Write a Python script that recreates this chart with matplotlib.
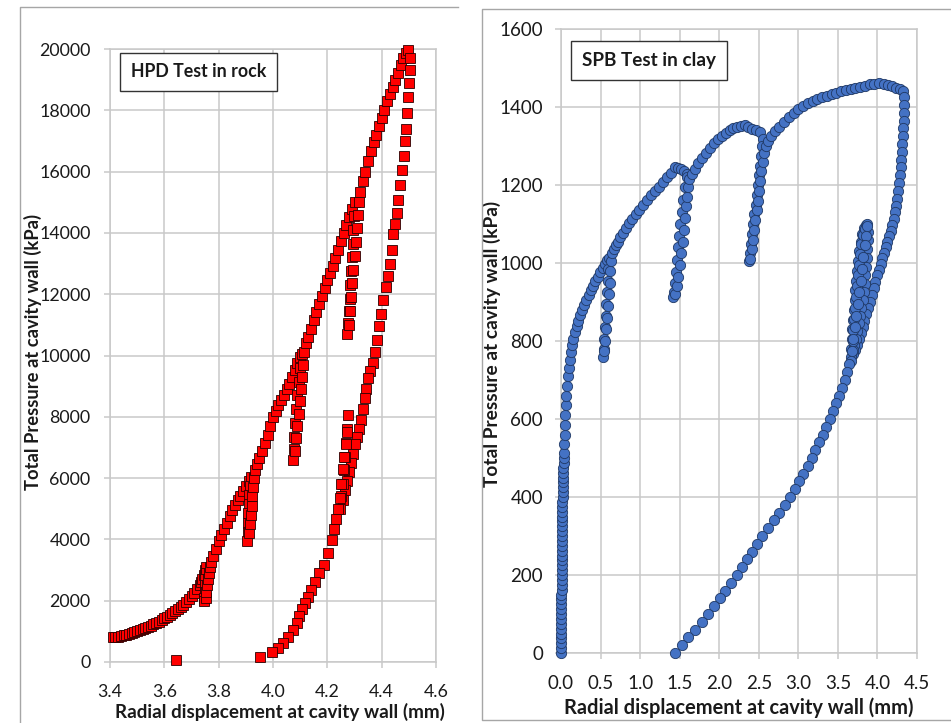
import numpy as np
import matplotlib
matplotlib.use("Agg")
import matplotlib.pyplot as plt
from matplotlib.lines import Line2D

# HPD test in rock: radial displacement (mm) and total pressure (kPa)
hpd_x = [
    3.410, 3.420, 3.430, 3.440, 3.450, 3.460, 3.470, 3.480, 3.490, 3.500,
    3.510, 3.520, 3.530, 3.540, 3.550, 3.560, 3.570, 3.580, 3.590, 3.600,
    3.610, 3.620, 3.630, 3.640, 3.650, 3.660, 3.670, 3.680, 3.690, 3.700,
    3.710, 3.720, 3.730, 3.735, 3.740, 3.745, 3.750, 3.753,
    3.752, 3.750, 3.749, 3.748, 3.747, 3.747,
    3.752, 3.755, 3.758, 3.761, 3.764, 3.767, 3.772,
    3.780, 3.790, 3.800, 3.810, 3.820, 3.830, 3.840, 3.850, 3.860, 3.870,
    3.880, 3.890, 3.900, 3.910, 3.918,
    3.916, 3.913, 3.911, 3.909, 3.908, 3.907, 3.906,
    3.912, 3.915, 3.918, 3.921, 3.924, 3.927, 3.930, 3.935,
    3.940, 3.950, 3.960, 3.970, 3.980, 3.990, 4.000, 4.010, 4.020, 4.030,
    4.040, 4.050, 4.060, 4.070, 4.080, 4.090, 4.100, 4.105,
    4.100, 4.095, 4.090, 4.086, 4.082, 4.079, 4.077, 4.075,
    4.082, 4.086, 4.090, 4.094, 4.098, 4.102, 4.106, 4.110, 4.114, 4.120,
    4.130, 4.140, 4.150, 4.160, 4.170, 4.180, 4.190, 4.200, 4.210, 4.220,
    4.230, 4.240, 4.250, 4.260, 4.270, 4.280, 4.290, 4.300,
    4.298, 4.296, 4.293, 4.291, 4.288, 4.285, 4.282, 4.279, 4.276, 4.273,
    4.280, 4.284, 4.288, 4.292, 4.296, 4.300, 4.304, 4.308, 4.312, 4.316, 4.322,
    4.330, 4.340, 4.350, 4.360, 4.370, 4.380, 4.390, 4.400, 4.410, 4.420,
    4.430, 4.440, 4.450, 4.460, 4.470, 4.480, 4.490, 4.498,
    4.504, 4.503, 4.501, 4.498, 4.494, 4.490, 4.486, 4.481, 4.475, 4.468,
    4.461, 4.455, 4.449, 4.443, 4.437, 4.431, 4.424, 4.415, 4.406, 4.398,
    4.390, 4.381, 4.374, 4.367, 4.358, 4.350, 4.343, 4.337, 4.330, 4.323,
    4.316, 4.308, 4.301, 4.294, 4.287, 4.280, 4.272, 4.264, 4.256, 4.248,
    4.252, 4.256, 4.260, 4.264, 4.268, 4.272, 4.277,
    4.272, 4.267, 4.262, 4.257, 4.252, 4.246, 4.240, 4.232, 4.224, 4.216,
    4.204, 4.186, 4.169, 4.155, 4.140, 4.128, 4.117, 4.106, 4.096, 4.087,
    4.072, 4.056, 4.038, 4.020, 3.995, 3.952,
    3.643,
]
hpd_p = [
    800, 815, 830, 850, 870, 895, 920, 950, 980, 1010,
    1040, 1075, 1110, 1150, 1190, 1230, 1275, 1320, 1370, 1420,
    1475, 1530, 1590, 1650, 1720, 1790, 1870, 1950, 2040, 2140,
    2250, 2370, 2500, 2600, 2720, 2850, 3000, 3100,
    2900, 2700, 2500, 2300, 2100, 1980,
    2100, 2300, 2500, 2700, 2900, 3100, 3250,
    3450, 3700, 3950, 4150, 4350, 4550, 4750, 4950, 5120, 5280,
    5430, 5580, 5750, 5900, 6050,
    5750, 5450, 5150, 4850, 4550, 4250, 3950,
    4200, 4500, 4800, 5100, 5400, 5700, 6000, 6250,
    6450, 6650, 6900, 7150, 7400, 7700, 7980, 8200, 8380, 8550,
    8720, 8900, 9080, 9300, 9520, 9750, 9950, 10050,
    9600, 9150, 8700, 8250, 7800, 7350, 6950, 6600,
    6900, 7300, 7700, 8100, 8500, 8900, 9300, 9700, 10100, 10400,
    10600, 10880, 11150, 11420, 11680, 11950, 12200, 12450, 12700, 12930,
    13180, 13450, 13720, 14000, 14270, 14520, 14770, 15000,
    14550, 14100, 13650, 13200, 12750, 12300, 11850, 11450, 11050, 10700,
    11000, 11450, 11900, 12350, 12800, 13250, 13700, 14150, 14600, 15000, 15350,
    15700, 16000, 16350, 16680, 16950, 17200, 17480, 17750, 18020, 18300,
    18520, 18760, 18980, 19230, 19480, 19700, 19880, 19970,
    19700, 19300, 18900, 18450, 17900, 17400, 17000, 16500, 16050, 15550,
    15070, 14650, 14300, 13950, 13450, 13000, 12600, 12250, 11800, 11350,
    10950, 10500, 10100, 9750, 9500, 9250, 8900, 8600, 8250, 7900,
    7600, 7350, 7100, 6800, 6500, 6200, 5900, 5600, 5300, 5000,
    5400, 5800, 6250, 6700, 7150, 7600, 8050,
    7500, 7100, 6700, 6300, 5800, 5350, 5000, 4650, 4350, 3980,
    3560, 3170, 2920, 2620, 2360, 2130, 1930, 1720, 1500, 1270,
    1040, 830, 610, 450, 310, 150,
    65,
]

# SPB test in clay: radial displacement (mm) and total pressure (kPa)
spb_x = [
    0.000, 0.000, 0.002, 0.002, 0.003, 0.003, 0.004, 0.004, 0.005, 0.005,
    0.006, 0.006, 0.006, 0.007, 0.007, 0.008, 0.008, 0.009, 0.009, 0.010,
    0.010, 0.011, 0.011, 0.012, 0.012, 0.013, 0.014, 0.014, 0.015, 0.016,
    0.017, 0.018, 0.019, 0.021, 0.022, 0.024, 0.026, 0.028, 0.030, 0.033,
    0.036, 0.040, 0.043, 0.046, 0.049, 0.053, 0.058, 0.065, 0.073, 0.083,
    0.095, 0.108, 0.122, 0.138, 0.155, 0.175, 0.196, 0.218, 0.242, 0.267,
    0.293, 0.320, 0.348, 0.377, 0.406, 0.436, 0.466, 0.497, 0.527, 0.556,
    0.585, 0.605,
    0.600, 0.592, 0.583, 0.574, 0.565, 0.556, 0.548, 0.541, 0.536,
    0.548, 0.560, 0.572, 0.584, 0.595, 0.605, 0.614, 0.622, 0.632, 0.645,
    0.665, 0.690, 0.720, 0.750, 0.785, 0.820, 0.860, 0.900, 0.945, 0.990,
    1.040, 1.090, 1.140, 1.190, 1.240, 1.290, 1.340, 1.390, 1.440,
    1.480, 1.520, 1.560, 1.595,
    1.590, 1.570, 1.545, 1.525, 1.505, 1.490, 1.478, 1.465, 1.450, 1.438,
    1.428, 1.420,
    1.440, 1.465, 1.485, 1.505, 1.522, 1.537, 1.552, 1.566, 1.580, 1.593,
    1.606, 1.622,
    1.650, 1.690, 1.730, 1.780, 1.830, 1.880, 1.930, 1.980, 2.030, 2.080,
    2.130, 2.180, 2.230, 2.280, 2.320,
    2.370, 2.420, 2.470, 2.520, 2.555,
    2.545, 2.530, 2.515, 2.500, 2.487, 2.474, 2.460, 2.445, 2.430, 2.415,
    2.400, 2.388, 2.378,
    2.395, 2.412, 2.428, 2.443, 2.458, 2.473, 2.488, 2.503, 2.518, 2.533,
    2.548, 2.565, 2.590, 2.620,
    2.660, 2.710, 2.760, 2.820, 2.880, 2.940, 3.000, 3.060, 3.120, 3.180,
    3.240, 3.300, 3.360, 3.420, 3.480, 3.540, 3.600, 3.660, 3.720, 3.780,
    3.840, 3.900, 3.960, 4.020, 4.080, 4.130, 4.180, 4.230, 4.280, 4.320,
    4.335, 4.335, 4.333, 4.330, 4.326, 4.321, 4.316, 4.310, 4.303, 4.295,
    4.286, 4.276, 4.265, 4.252, 4.238, 4.222, 4.205, 4.187, 4.168, 4.148,
    4.127, 4.105, 4.083, 4.061, 4.040, 4.018, 3.996, 3.974, 3.951, 3.928,
    3.905, 3.882, 3.859, 3.836, 3.812, 3.788, 3.763, 3.738, 3.713, 3.688,
    3.665,
    3.668, 3.676, 3.684, 3.692, 3.701, 3.710, 3.720, 3.731, 3.743, 3.756,
    3.770, 3.786, 3.804, 3.826, 3.850, 3.872,
    3.880, 3.877, 3.872, 3.866, 3.858, 3.849, 3.838, 3.826, 3.812, 3.797,
    3.780, 3.762, 3.744, 3.726, 3.708, 3.690,
    3.685, 3.694, 3.704, 3.714, 3.725, 3.737, 3.750, 3.764, 3.779, 3.795,
    3.815, 3.840, 3.865,
    3.855, 3.840, 3.822, 3.804, 3.786, 3.768, 3.750, 3.732, 3.714, 3.697,
    3.680, 3.662,
    3.643, 3.617, 3.590, 3.552, 3.514, 3.476, 3.438, 3.400, 3.354, 3.308,
    3.262, 3.216, 3.170, 3.116, 3.062, 3.008, 2.954, 2.900, 2.829, 2.758,
    2.687, 2.616, 2.545, 2.480, 2.415, 2.350, 2.285, 2.220, 2.148, 2.076,
    2.004, 1.932, 1.860, 1.776, 1.692, 1.608, 1.524, 1.440,
]
spb_p = [
    0, 12, 25, 38, 50, 62, 75, 88, 100, 112,
    125, 138, 150, 162, 175, 188, 200, 212, 225, 238,
    250, 262, 275, 288, 300, 312, 325, 338, 350, 362,
    375, 388, 400, 412, 425, 438, 450, 462, 475, 488,
    500, 512, 535, 560, 585, 610, 635, 660, 685, 710,
    732, 752, 772, 790, 806, 822, 838, 852, 866, 880,
    893, 906, 918, 930, 942, 954, 965, 977, 988, 998,
    1007, 1012,
    985, 955, 925, 895, 865, 835, 805, 780, 760,
    775, 800, 830, 860, 890, 920, 950, 980, 1005, 1025,
    1035, 1045, 1055, 1066, 1078, 1090, 1102, 1113, 1125, 1137,
    1150, 1162, 1174, 1185, 1196, 1208, 1220, 1232, 1246,
    1244, 1240, 1235, 1228,
    1221, 1195, 1162, 1130, 1100, 1070, 1040, 1008, 978, 948,
    925, 912,
    920, 940, 965, 995, 1025, 1055, 1085, 1115, 1145, 1170,
    1195, 1215,
    1228, 1242, 1256, 1270, 1283, 1296, 1307, 1317, 1326, 1334,
    1340, 1345, 1349, 1352, 1353,
    1349, 1344, 1340, 1335, 1318,
    1300, 1275, 1250, 1225, 1200, 1175, 1150, 1125, 1100, 1075,
    1050, 1025, 1005,
    1010, 1035, 1060, 1085, 1110, 1135, 1160, 1185, 1210, 1235,
    1260, 1283, 1300, 1312,
    1325, 1338, 1350, 1362, 1374, 1385, 1394, 1402, 1409, 1415,
    1420, 1425, 1429, 1433, 1437, 1440, 1443, 1446, 1449, 1452,
    1455, 1458, 1460, 1461, 1460, 1457, 1453, 1449, 1445, 1440,
    1425, 1405, 1385, 1365, 1345, 1325, 1305, 1285, 1265, 1245,
    1225, 1205, 1185, 1165, 1147, 1130, 1113, 1097, 1082, 1068,
    1054, 1040, 1026, 1012, 998, 983, 968, 952, 935, 918,
    901, 884, 868, 852, 836, 820, 804, 789, 776, 766,
    760,
    780, 805, 830, 855, 880, 905, 930, 955, 980, 1005,
    1030, 1055, 1075, 1090, 1097, 1099,
    1080, 1058, 1035, 1012, 990, 968, 946, 925, 905, 885,
    865, 845, 825, 805, 790, 778,
    800, 828, 856, 884, 912, 940, 968, 996, 1024, 1050,
    1072, 1088, 1096,
    1070, 1045, 1015, 985, 955, 925, 895, 865, 835, 805,
    775, 750,
    740, 720, 700, 680, 660, 640, 620, 600, 580, 560,
    540, 520, 500, 480, 460, 440, 420, 400, 380, 360,
    340, 320, 300, 280, 260, 240, 220, 200, 180, 160,
    140, 120, 100, 80, 60, 40, 20, 0,
]

hpd_xticks = [3.4, 3.6, 3.8, 4.0, 4.2, 4.4, 4.6]
hpd_yticks = [0, 2000, 4000, 6000, 8000, 10000, 12000, 14000, 16000, 18000, 20000]
spb_xticks = [0.0, 0.5, 1.0, 1.5, 2.0, 2.5, 3.0, 3.5, 4.0, 4.5]
spb_yticks = [0, 200, 400, 600, 800, 1000, 1200, 1400, 1600]

plt.rcParams['font.family'] = ['Lato', 'DejaVu Sans']

W, H = 951, 723
fig = plt.figure(figsize=(W / 100, H / 100), dpi=100)
fig.patch.set_facecolor('white')

grid_c = '#C9C9C9'
frame_c = '#A6A6A6'
text_c = '#1A1A1A'


def px_axes(x0, y0, x1, y1):
    # pixel box (top-left origin) -> figure axes
    return fig.add_axes([x0 / W, 1 - y1 / H, (x1 - x0) / W, (y1 - y0) / H])


def px_line(xs, ys):
    fig.add_artist(Line2D([x / W for x in xs], [1 - y / H for y in ys],
                          transform=fig.transFigure, color=frame_c, lw=1.0))


def style(ax, fs):
    ax.set_axisbelow(True)
    ax.grid(True, color=grid_c, lw=1.1)
    for s in ax.spines.values():
        s.set_color(grid_c)
        s.set_linewidth(1.1)
    ax.tick_params(direction='out', length=4, width=1.1, color=grid_c,
                   labelsize=fs, labelcolor=text_c)


# chart frames
px_line([20, 20, 458], [723, 7, 7])
px_line([951, 482, 482, 951], [9, 9, 720, 720])

# left: HPD
ax1 = px_axes(110, 49, 436, 662)
style(ax1, 12.8)
ax1.plot(hpd_x, hpd_p, ls='none', marker='s', ms=7.2, mfc='#FF0000', mec='#2A0000',
         mew=0.6, clip_on=False, zorder=3)
ax1.set_xlim(3.4, 4.6)
ax1.set_ylim(0, 20000)
ax1.set_xticks(hpd_xticks)
ax1.set_xticklabels([f'{v:.1f}' for v in hpd_xticks])
ax1.set_yticks(hpd_yticks)
ax1.set_yticklabels([str(v) for v in hpd_yticks])
ax1.tick_params(axis='y', pad=10)
ax1.tick_params(axis='x', pad=12)
ax1.set_xlabel('Radial displacement at cavity wall (mm)', fontsize=13.6, fontweight='bold',
               color=text_c, va='center')
ax1.xaxis.set_label_coords(0.521, -0.0816)
ax1.set_ylabel('Total Pressure at cavity wall (kPa)', fontsize=13.2, fontweight='bold',
               color=text_c, va='center')
ax1.yaxis.set_label_coords(-0.236, 0.505)
ax1.text(0.0644, 0.9625, 'HPD Test in rock', transform=ax1.transAxes, fontsize=12.8,
         fontweight='bold', color=text_c, va='center', ha='left',
         bbox=dict(boxstyle='square,pad=0.6', fc='white', ec='#333333', lw=1.0), zorder=5)

# right: SPB
ax2 = px_axes(561, 29, 917, 653)
style(ax2, 13.5)
ax2.plot(spb_x, spb_p, ls='none', marker='o', ms=7.4, mfc='#4472C4', mec='#1F3864',
         mew=0.6, clip_on=False, zorder=3)
ax2.set_xlim(0, 4.5)
ax2.set_ylim(0, 1600)
ax2.set_xticks(spb_xticks)
ax2.set_xticklabels([f'{v:.1f}' for v in spb_xticks])
ax2.set_yticks(spb_yticks)
ax2.set_yticklabels([str(v) for v in spb_yticks])
ax2.tick_params(axis='y', pad=9)
ax2.tick_params(axis='x', pad=12)
ax2.set_xlabel('Radial displacement at cavity wall (mm)', fontsize=14.4, fontweight='bold',
               color=text_c, va='center')
ax2.xaxis.set_label_coords(0.5, -0.0881)
ax2.set_ylabel('Total Pressure at cavity wall (kPa)', fontsize=13.8, fontweight='bold',
               color=text_c, va='center')
ax2.yaxis.set_label_coords(-0.193, 0.496)
ax2.text(0.059, 0.9495, 'SPB Test in clay', transform=ax2.transAxes, fontsize=13.6,
         fontweight='bold', color=text_c, va='center', ha='left',
         bbox=dict(boxstyle='square,pad=0.6', fc='white', ec='#333333', lw=1.0), zorder=5)

fig.savefig('out.png', dpi=100)
